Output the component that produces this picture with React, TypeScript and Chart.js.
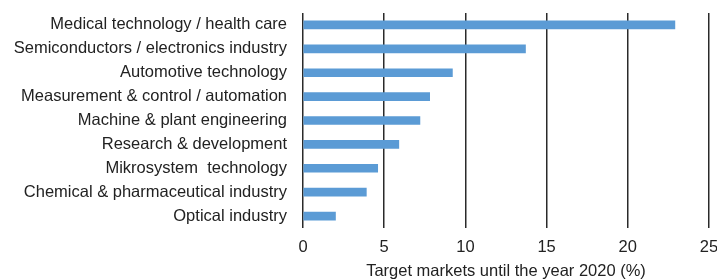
import React, { useEffect, useRef } from "react";
import { Chart, registerables } from "chart.js";

Chart.register(...registerables);

const categories = [
  "Medical technology / health care",
  "Semiconductors / electronics industry",
  "Automotive technology",
  "Measurement & control / automation",
  "Machine & plant engineering",
  "Research & development",
  "Mikrosystem  technology",
  "Chemical & pharmaceutical industry",
  "Optical industry",
];
const values = [22.9, 13.7, 9.2, 7.8, 7.2, 5.9, 4.6, 3.9, 2.0];
const axisTitle = "Target markets until the year 2020 (%)";
const xMin = 0;
const xMax = 25;
const xStep = 5;

export default function App() {
  const ref = useRef<HTMLCanvasElement | null>(null);
  useEffect(() => {
    if (!ref.current) return;
    const font = "Liberation Sans, Arial, sans-serif";
    const chart = new Chart(ref.current, {
      type: "bar",
      data: {
        labels: categories,
        datasets: [
          {
            data: values,
            backgroundColor: "#5b9bd5",
            barThickness: 8,
          },
        ],
      },
      options: {
        indexAxis: "y",
        animation: false,
        responsive: false,
        maintainAspectRatio: false,
        layout: { padding: { top: 13, right: 0, bottom: 0, left: 0 } },
        plugins: { legend: { display: false }, tooltip: { enabled: false } },
        scales: {
          x: {
            min: xMin,
            max: xMax,
            ticks: {
              stepSize: xStep,
              color: "#222",
              font: { family: font, size: 16.5 },
              padding: 10,
            },
            grid: { color: "#2a2a2a", lineWidth: 1.5, drawTicks: false },
            border: { display: false },
            title: {
              display: true,
              text: axisTitle,
              color: "#222",
              font: { family: font, size: 16.5, lineHeight: 1.0 },
              padding: { top: 0, bottom: 0 },
            },
            afterFit: (scale: any) => {
              scale.paddingRight = 8;
              scale.height = 52;
            },
          },
          y: {
            ticks: {
              color: "#222",
              font: { family: font, size: 16.5 },
              padding: 16,
              autoSkip: false,
            },
            grid: { display: false, drawTicks: false },
            border: { display: false },
            afterFit: (scale: any) => {
              scale.width = 303;
              scale.paddingTop = 0;
              scale.paddingBottom = 0;
            },
          },
        },
      },
    });
    return () => chart.destroy();
  }, []);
  return (
    <div style={{ position: "fixed", left: 0, top: 0, width: 717, height: 280, background: "#fff" }}>
      <canvas ref={ref} width={717} height={280} style={{ width: 717, height: 280 }} />
    </div>
  );
}
